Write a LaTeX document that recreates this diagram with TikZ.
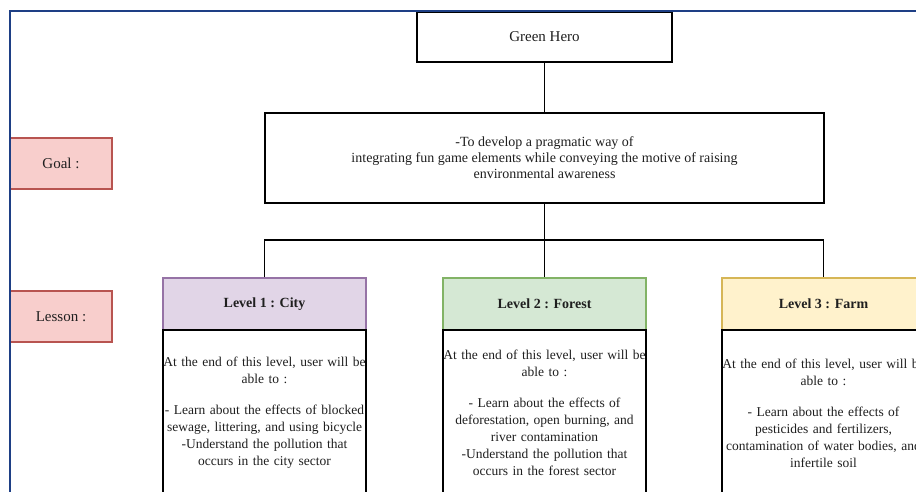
\documentclass[tikz,border=0pt]{standalone}
\usepackage{fontspec}
\setmainfont{Liberation Serif}
\definecolor{framenavy}{HTML}{1E3F85}
\definecolor{textgray}{HTML}{1F1F1F}
\definecolor{redfill}{HTML}{F8CECC}
\definecolor{redline}{HTML}{B85450}
\definecolor{purplefill}{HTML}{E1D5E7}
\definecolor{purpleline}{HTML}{9673A6}
\definecolor{greenfill}{HTML}{D5E8D4}
\definecolor{greenline}{HTML}{82B366}
\definecolor{yellowfill}{HTML}{FFF2CC}
\definecolor{yellowline}{HTML}{D6B656}
% one centred line of a card body, allowed to overhang the card edges
\newcommand\bodyline[1]{\makebox[203pt][c]{#1}}
\tikzset{
  base/.style={draw=black, line width=1.1pt, fill=white, text=textgray,
    inner sep=0pt, align=center, font=\fontsize{14}{17}\selectfont},
  titlebox/.style={base, minimum width=255, minimum height=50,
    font=\fontsize{15}{17}\selectfont},
  goalbox/.style={base, minimum width=559, minimum height=90,
    font=\fontsize{14}{16}\selectfont},
  sidelabel/.style={base, draw=redline, fill=redfill, minimum width=102,
    minimum height=51, font=\fontsize{15}{17}\selectfont},
  levelhead/.style={base, minimum width=203, minimum height=52,
    font=\fontsize{14}{17}\selectfont\bfseries},
  levelbody/.style={base, minimum width=203, minimum height=166,
    text width=203pt, font=\fontsize{13.5}{17}\selectfont},
  link/.style={draw=black, line width=1.1pt}
}
\begin{document}
\begin{tikzpicture}[x=1pt, y=-1pt]
  \useasboundingbox (0,0) rectangle (916,492);
  \clip (0,0) rectangle (916,492);
  \fill[white] (0,0) rectangle (916,492);

  % top of the tree
  \node[titlebox] (hero) at (544.5,37) {Green Hero};
  \node[goalbox] (goal) at (544.5,158)
    {-To develop a pragmatic way of\\
     integrating fun game elements while conveying the motive of raising\\
     environmental awareness};

  % row labels
  \node[sidelabel] (goallbl) at (61,163.5) {Goal :};
  \node[sidelabel] (lessonlbl) at (61,316.5) {Lesson :};

  % level cards: coloured header over a white body
  \node[levelhead, fill=purplefill, draw=purpleline] (l1h) at (264.5,304) {Level 1 : City};
  \node[levelbody] (l1b) at (264.5,413)
    {\bodyline{At the end of this level, user will be}\\
     \bodyline{able to :}\\[14pt]
     \bodyline{- Learn about the effects of blocked}\\
     \bodyline{sewage, littering, and using bicycle}\\
     \bodyline{-Understand the pollution that}\\
     \bodyline{occurs in the city sector}};

  \node[levelhead, fill=greenfill, draw=greenline] (l2h) at (544.5,304) {Level 2 : Forest};
  \node[levelbody] (l2b) at (544.5,413)
    {\bodyline{At the end of this level, user will be}\\
     \bodyline{able to :}\\[14pt]
     \bodyline{- Learn about the effects of}\\
     \bodyline{deforestation, open burning, and}\\
     \bodyline{river contamination}\\
     \bodyline{-Understand the pollution that}\\
     \bodyline{occurs in the forest sector}};

  \node[levelhead, fill=yellowfill, draw=yellowline] (l3h) at (823.5,304) {Level 3 : Farm};
  \node[levelbody] (l3b) at (823.5,413)
    {\bodyline{At the end of this level, user will be}\\
     \bodyline{able to :}\\[14pt]
     \bodyline{- Learn about the effects of}\\
     \bodyline{pesticides and fertilizers,}\\
     \bodyline{contamination of water bodies, and}\\
     \bodyline{infertile soil}};

  % connectors
  \coordinate (bus) at (544.5,240);
  \draw[link] (hero.south) -- (goal.north);
  \draw[link] (goal.south) -- (l2h.north);
  \draw[link] (l1h.north) |- (bus) -| (l3h.north);

  % page frame
  \draw[framenavy, line width=2pt] (9.5,500) -- (9.5,11) -- (930,11);
\end{tikzpicture}
\end{document}
